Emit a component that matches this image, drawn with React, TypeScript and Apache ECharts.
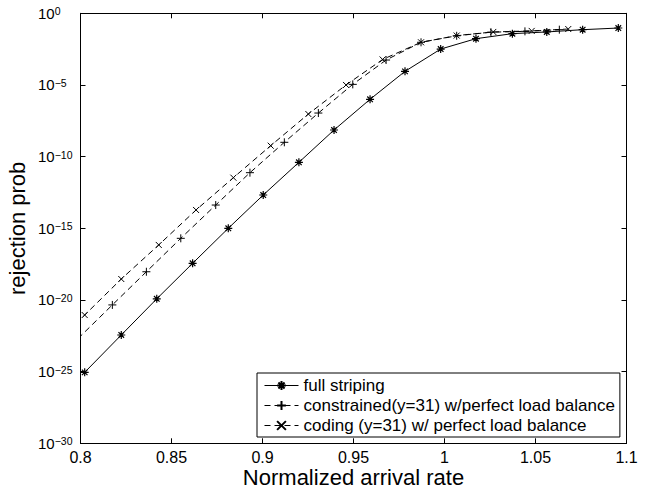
import React, { useEffect, useRef } from "react";
import * as echarts from "echarts";

const seriesNames = [
  "full striping",
  "constrained(y=31) w/perfect load balance",
  "coding (y=31) w/ perfect load balance",
];

const xTicks = { min: 0.8, max: 1.1, step: 0.05 };
// y axis in decades (log10 of the probability)
const yDecades = { min: -30, max: 0, step: 5 };

const stripingX = [0.8023, 0.8224, 0.8419, 0.8616, 0.8812, 0.9004, 0.92, 0.9393, 0.9591, 0.9783, 0.9979, 1.0173, 1.0373, 1.0562, 1.0759, 1.0955];
const stripingY = [8.9e-26, 3.6e-23, 1.2e-20, 3.6e-18, 1.0e-15, 2.1e-13, 4.0e-11, 7.2e-9, 1.0e-6, 8.9e-5, 3.2e-3, 1.7e-2, 3.8e-2, 5.0e-2, 7.2e-2, 9.4e-2];

const constrainedX = [0.7986, 0.8175, 0.8362, 0.8551, 0.8743, 0.8931, 0.912, 0.9307, 0.9496, 0.9679, 0.9871, 1.0067, 1.0255, 1.0442, 1.0631];
const constrainedY = [2.0e-23, 4.5e-21, 9.3e-19, 2.0e-16, 4.2e-14, 7.6e-12, 1.0e-9, 1.1e-7, 1.1e-5, 5.5e-4, 9.5e-3, 2.7e-2, 4.8e-2, 5.5e-2, 7.2e-2];

const codingX = [0.7819, 0.8023, 0.8224, 0.843, 0.8635, 0.884, 0.9045, 0.9252, 0.9459, 0.966, 0.9871, 1.0067, 1.0268, 1.0479, 1.068];
const codingY = [2.5e-24, 8.9e-22, 2.9e-19, 6.9e-17, 1.9e-14, 3.4e-12, 5.8e-10, 9.4e-8, 1.0e-5, 6.0e-4, 9.5e-3, 2.8e-2, 5.0e-2, 5.9e-2, 8.0e-2];

const FONT = "'Liberation Sans', Arial, Helvetica, sans-serif";
const STAR = "path://M5 0L5 10M0 5L10 5M1.5 1.5L8.5 8.5M8.5 1.5L1.5 8.5";
const PLUS = "path://M5 0L5 10M0 5L10 5";
const CROSS = "path://M0 0L10 10M10 0L0 10";

function pairs(xs: number[], ys: number[]) {
  return xs.map((x, i) => [x, Math.log10(ys[i])]);
}

export default function App() {
  const ref = useRef<HTMLDivElement>(null);
  useEffect(() => {
    if (!ref.current) return;
    const chart = echarts.init(ref.current, null, { renderer: "svg" });
    const markerStyle = { color: "#000", borderColor: "#000", borderWidth: 1 };
    const axisCommon = {
      axisLine: { show: true, onZero: false, lineStyle: { color: "#000", width: 1 } },
      axisTick: { show: true, inside: true, length: 5, lineStyle: { color: "#000" } },
      splitLine: { show: false },
    };
    const option: any = {
      animation: false,
      backgroundColor: "#fff",
      textStyle: { fontFamily: FONT },
      grid: {
        left: 80.5,
        right: 655 - 626.5,
        top: 13.3,
        bottom: 493 - 443.3,
        containLabel: false,
        outerBoundsMode: "none",
      },
      legend: {
        orient: "vertical",
        left: 257,
        top: 373,
        padding: [4, 5, 3, 7],
        itemGap: 3,
        itemWidth: 34,
        itemHeight: 11,
        backgroundColor: "#fff",
        borderColor: "#000",
        borderWidth: 1,
        borderRadius: 0,
        selectedMode: false,
        lineStyle: { width: 1 },
        textStyle: { fontSize: 17, color: "#000", fontFamily: FONT },
        data: seriesNames,
      },
      xAxis: [
        {
          type: "value",
          min: xTicks.min,
          max: xTicks.max,
          interval: xTicks.step,
          position: "bottom",
          name: "Normalized arrival rate",
          nameLocation: "middle",
          nameGap: 23,
          nameMoveOverlap: false,
          nameTextStyle: { fontSize: 22, color: "#000", fontFamily: FONT },
          axisLabel: { fontSize: 16, color: "#000", margin: 6, fontFamily: FONT },
          ...axisCommon,
        },
        {
          type: "value",
          min: xTicks.min,
          max: xTicks.max,
          interval: xTicks.step,
          position: "top",
          axisLabel: { show: false },
          ...axisCommon,
        },
      ],
      yAxis: [
        {
          type: "value",
          min: yDecades.min,
          max: yDecades.max,
          interval: yDecades.step,
          position: "left",
          name: "rejection prob",
          nameLocation: "middle",
          nameRotate: 90,
          nameGap: 52,
          nameMoveOverlap: false,
          nameTextStyle: { fontSize: 22, color: "#000", fontFamily: FONT },
          axisLabel: {
            align: "left",
            margin: 42.5,
            color: "#000",
            formatter: (v: number) => {
              const e = Math.round(v);
              return "{b|10}{s|" + (e < 0 ? "\u2212" + -e : String(e)) + "}";
            },
            rich: {
              b: { fontSize: 15, lineHeight: 15, verticalAlign: "middle", color: "#000", fontFamily: FONT },
              s: { fontSize: 10.5, lineHeight: 10, verticalAlign: "top", padding: [0, 0, 14, 0], color: "#000", fontFamily: FONT },
            },
          },
          ...axisCommon,
        },
        {
          type: "value",
          min: yDecades.min,
          max: yDecades.max,
          interval: yDecades.step,
          position: "right",
          axisLabel: { show: false },
          ...axisCommon,
        },
      ],
      series: [
        {
          name: seriesNames[0],
          type: "line",
          xAxisIndex: 0,
          yAxisIndex: 0,
          data: pairs(stripingX, stripingY),
          symbol: STAR,
          symbolSize: 8,
          showAllSymbol: true,
          clip: true,
          lineStyle: { color: "#000", width: 1, type: "solid" },
          itemStyle: { ...markerStyle, borderWidth: 1.2 },
        },
        {
          name: seriesNames[1],
          type: "line",
          xAxisIndex: 0,
          yAxisIndex: 0,
          data: pairs(constrainedX, constrainedY),
          symbol: PLUS,
          symbolSize: 8,
          showAllSymbol: true,
          clip: true,
          lineStyle: { color: "#000", width: 1, type: [6, 4] },
          itemStyle: markerStyle,
        },
        {
          name: seriesNames[2],
          type: "line",
          xAxisIndex: 0,
          yAxisIndex: 0,
          data: pairs(codingX, codingY),
          symbol: CROSS,
          symbolSize: 6,
          showAllSymbol: true,
          clip: true,
          lineStyle: { color: "#000", width: 1, type: [6, 4] },
          itemStyle: markerStyle,
        },
      ],
    };
    chart.setOption(option);
    return () => chart.dispose();
  }, []);
  return (
    <div
      ref={ref}
      style={{ position: "fixed", left: 0, top: 0, width: 655, height: 493, background: "#fff" }}
    />
  );
}
